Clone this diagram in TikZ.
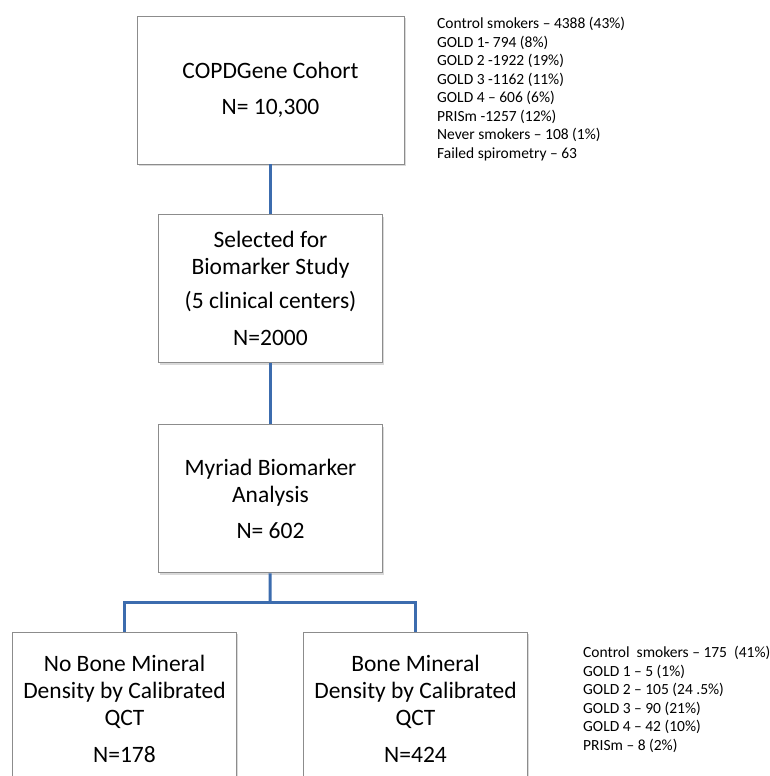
\documentclass[tikz,border=0pt]{standalone}
\usepackage{fontspec}
\setmainfont{Carlito}
\usetikzlibrary{positioning,shadows}
\definecolor{linkblue}{HTML}{3C6CAE}
\definecolor{boxgray}{HTML}{8C8C8C}

\begin{document}
\begin{tikzpicture}[
 x=1pt,y=-1pt,
 node distance=50pt,
 box/.style={draw=boxgray,line width=0.9pt,fill=white,align=center,minimum width=224pt,minimum height=148pt,inner sep=0pt,font=\fontsize{23.5}{27}\selectfont,drop shadow={shadow xshift=1.5pt,shadow yshift=-2pt,opacity=0.3}},
 link/.style={draw=linkblue,line width=3pt},
 tally/.style={anchor=north west,align=left,inner sep=0pt,font=\fontsize{15.5}{18.5}\selectfont}
]
\useasboundingbox (0,0) rectangle (770,776);
\node[box,minimum width=267pt] (cohort) at (270.5,90) {COPDGene Cohort\\[9pt]N= 10,300};
\node[box,below=50pt of cohort] (selected) {Selected for\\Biomarker Study\\[7pt](5 clinical centers)\\[10pt]N=2000};
\node[box,below=61pt of selected] (myriad) {Myriad Biomarker\\Analysis\\[9pt]N= 602};
\node[box,minimum height=152pt,anchor=north] (nobmd) at (124.5,632) {No Bone Mineral\\Density by Calibrated\\QCT\\[10pt]N=178};
\node[box,minimum height=152pt,anchor=north] (bmd) at (415.5,632) {Bone Mineral\\Density by Calibrated\\QCT\\[10pt]N=424};
\node[tally] (cohortlist) at (437,17) {Control smokers – 4388 (43\%)\\GOLD 1- 794 (8\%)\\GOLD 2 -1922 (19\%)\\GOLD 3 -1162 (11\%)\\GOLD 4 – 606 (6\%)\\PRISm -1257 (12\%)\\Never smokers – 108 (1\%)\\Failed spirometry – 63};
\node[tally] (bmdlist) at (583,646) {Control\ \ smokers – 175\ \ (41\%)\\GOLD 1 – 5 (1\%)\\GOLD 2 – 105 (24 .5\%)\\GOLD 3 – 90 (21\%)\\GOLD 4 – 42 (10\%)\\PRISm – 8 (2\%)};
\coordinate (split) at (270,602);
\draw[link] (cohort) -- (selected);
\draw[link] (selected) -- (myriad);
\draw[link] (myriad) -- (split);
\draw[link] (split) -| (nobmd.north);
\draw[link] (split) -| (bmd.north);
\end{tikzpicture}
\end{document}
